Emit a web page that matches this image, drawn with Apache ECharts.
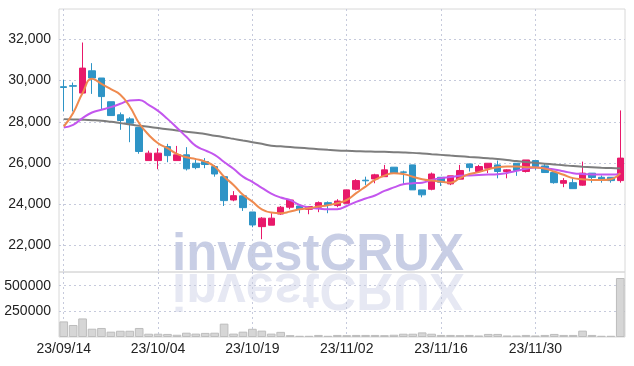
<!DOCTYPE html>
<html><head><meta charset="utf-8">
<script src="https://cdn.jsdelivr.net/npm/echarts@6/dist/echarts.min.js"></script>
<style>html,body{margin:0;padding:0;background:#fff}#c{width:634px;height:366px}</style>
</head><body><div id="c"></div>
<script>
const dates = ['23/09/14','23/09/15','23/09/18','23/09/19','23/09/20','23/09/21','23/09/22','23/09/25','23/09/26','23/09/27',
'23/10/04','23/10/05','23/10/06','23/10/10','23/10/11','23/10/12','23/10/13','23/10/16','23/10/17','23/10/18',
'23/10/19','23/10/20','23/10/23','23/10/24','23/10/25','23/10/26','23/10/27','23/10/30','23/10/31','23/11/01',
'23/11/02','23/11/03','23/11/06','23/11/07','23/11/08','23/11/09','23/11/10','23/11/13','23/11/14','23/11/15',
'23/11/16','23/11/17','23/11/20','23/11/21','23/11/22','23/11/23','23/11/24','23/11/27','23/11/28','23/11/29',
'23/11/30','23/12/01','23/12/04','23/12/05','23/12/06','23/12/07','23/12/08','23/12/11','23/12/12','23/12/13'];
// [open, close, low, high]
const ohlc = [
[29700,29660,28500,30030],[29750,29720,28500,29900],[29390,30600,29390,31840],[30470,30120,29350,30840],[30120,29220,28580,30120],
[28970,28300,28300,28970],[28340,28060,27610,28450],[28140,27930,27010,28220],[27720,26560,26450,27720],[26120,26480,26120,26600],
[26120,26480,25700,26720],[26800,26360,26040,26930],[26120,26400,26120,26830],[26400,25720,25640,26770],[25990,25780,25700,26240],
[26070,25930,25750,26240],[25830,25470,25340,25900],[25340,24180,23920,25340],[24210,24420,24150,24640],[24410,23840,23680,24410],
[23630,23000,22890,23630],[22920,23330,22310,23380],[22990,23330,22990,23570],[23530,23860,23490,23920],[23860,24210,23760,24250],
[23920,23760,23570,23920],[23760,23890,23520,23920],[23860,24080,23620,24140],[24080,23970,23570,24140],[23940,24160,23860,24250],
[24050,24700,24050,24700],[24730,25150,24680,25220],[25170,25140,24940,25340],[25230,25430,25020,25480],[25340,25670,25340,25910],
[25800,25510,25510,25800],[25570,25550,24940,25630],[25910,24700,24700,25910],[24700,24460,24340,24700],[24730,25470,24680,25540],
[25310,25070,24890,25310],[24990,25380,24930,25380],[25220,25640,25220,25910],[25960,25780,25590,25960],[25590,25830,25540,25910],
[25750,25990,25510,25990],[25910,25590,25260,26120],[25590,25670,25260,25700],[25990,25640,25380,25990],[25590,26150,25540,26150],
[26120,25830,25670,26120],[25860,25540,25540,25960],[25540,25050,25000,25540],[25020,25150,24830,25270],[25050,24760,24760,25270],
[24930,25510,24900,26070],[25510,25300,25050,25510],[25310,25180,25050,25400],[25310,25150,25050,25310],[25150,26240,25050,28550]];
const ma5 = [27770,28430,29390,30080,29840,29580,29310,28740,27930,27370,
26960,26720,26440,26280,26190,26070,25830,25340,24940,24460,
24130,23760,23600,23570,23650,23760,23810,23890,23960,24050,
24210,24540,24860,25180,25390,25510,25470,25340,25220,25150,
25100,25050,25270,25470,25560,25700,25800,25830,25830,25800,
25780,25730,25590,25430,25270,25220,25180,25180,25220,25510];
const ma20 = [27720,27850,28180,28450,28580,28710,28870,29030,29060,28820,
28530,28140,27710,27270,26830,26610,26400,26050,25720,25340,
25090,24800,24520,24330,24210,23970,23850,23800,23760,23760,
23920,24120,24280,24430,24650,24820,24970,25020,25050,25180,
25270,25320,25380,25400,25420,25440,25460,25520,25620,25720,
25790,25740,25690,25600,25510,25470,25450,25440,25440,25470];
const maLong = [28128,28113,28099,28079,28050,27997,27934,27871,27808,27754,
27696,27638,27580,27522,27463,27405,27327,27255,27172,27090,
27012,26930,26843,26809,26775,26741,26707,26673,26639,26610,
26590,26576,26561,26552,26542,26527,26513,26493,26464,26430,
26396,26362,26333,26299,26265,26231,26198,26144,26096,26047,
26008,25969,25931,25892,25853,25824,25800,25776,25756,25732];
const volume = [152000,117000,181000,81000,88000,52000,61000,61000,88000,32000,
32000,30000,22000,42000,33000,40000,42000,130000,33000,52000,
80000,62000,33000,50000,18000,12000,12000,20000,12000,20000,
18000,20000,20000,20000,18000,22000,32000,32000,45000,32000,
20000,20000,18000,20000,15000,30000,30000,15000,15000,20000,
15000,20000,30000,20000,20000,62000,20000,12000,12000,575000];
const priceTicks = [22000,24000,26000,28000,30000,32000];
const volTicks = [250000,500000];

const UP = '#e8196a', DOWN = '#2e94c6';
const gridLine = {show:true, lineStyle:{color:'#c6cadc', type:[2,3], width:1}};
const labelFont = {fontFamily:'"Liberation Sans Narrow","Liberation Sans",sans-serif', fontSize:14, color:'#222'};
const chart = echarts.init(document.getElementById('c'), null, {renderer:'canvas'});
const wmFont = 'bold 51px "Liberation Sans",sans-serif';
chart.setOption({
  animation:false,
  backgroundColor:'#fff',
  graphic:[
    {type:'text', x:172, y:281, z:-10, silent:true, style:{text:'investCRUX', font:wmFont, fill:'#c8cee5', textVerticalAlign:'bottom', verticalAlign:'bottom'}},
    {type:'text', x:172, y:263, z:-10, scaleY:-1, silent:true, style:{text:'investCRUX', font:wmFont, fill:'#e6e8f3', textVerticalAlign:'bottom', verticalAlign:'bottom'}}
  ],
  grid:[
    {left:59, right:9, top:9, height:263, show:true, borderColor:'#d8d8d8', borderWidth:1},
    {left:59, right:9, top:272, height:65, show:true, borderColor:'#d8d8d8', borderWidth:1}
  ],
  xAxis:[
    {type:'category', gridIndex:0, data:dates, boundaryGap:true, axisLine:{show:false}, axisTick:{show:false}, axisLabel:{show:false},
     splitLine:Object.assign({interval:9, alignWithLabel:true}, gridLine)},
    {type:'category', gridIndex:1, data:dates, boundaryGap:true, axisLine:{show:false}, axisTick:{show:false},
     axisLabel:Object.assign({interval:9, margin:5}, labelFont),
     splitLine:Object.assign({interval:9, alignWithLabel:true}, gridLine)}
  ],
  yAxis:[
    {type:'value', gridIndex:0, min:20722, max:33463, axisLine:{show:false}, axisTick:{show:false, customValues:priceTicks},
     axisLabel:Object.assign({customValues:priceTicks, margin:8, formatter:v=>v.toLocaleString('en-US')}, labelFont),
     splitLine:gridLine},
    {type:'value', gridIndex:1, min:0, max:633500, axisLine:{show:false}, axisTick:{show:false, customValues:volTicks},
     axisLabel:Object.assign({customValues:volTicks, margin:8, formatter:v=>String(v)}, labelFont),
     splitLine:gridLine}
  ],
  series:[
    {type:'candlestick', xAxisIndex:0, yAxisIndex:0, data:ohlc, barWidth:7,
     itemStyle:{color:UP, color0:DOWN, borderColor:UP, borderColor0:DOWN, borderWidth:1}},
    {type:'line', xAxisIndex:0, yAxisIndex:0, data:maLong, symbol:'none', smooth:true, lineStyle:{color:'#7d7d7d', width:2}},
    {type:'line', xAxisIndex:0, yAxisIndex:0, data:ma20, symbol:'none', smooth:true, lineStyle:{color:'#c356ee', width:2}},
    {type:'line', xAxisIndex:0, yAxisIndex:0, data:ma5, symbol:'none', smooth:true, lineStyle:{color:'#ef8a4f', width:2}},
    {type:'bar', xAxisIndex:1, yAxisIndex:1, data:volume, barCategoryGap:'8%',
     itemStyle:{color:'#d6d6d6', borderColor:'#bdbdbd', borderWidth:1}}
  ]
});
</script></body></html>
